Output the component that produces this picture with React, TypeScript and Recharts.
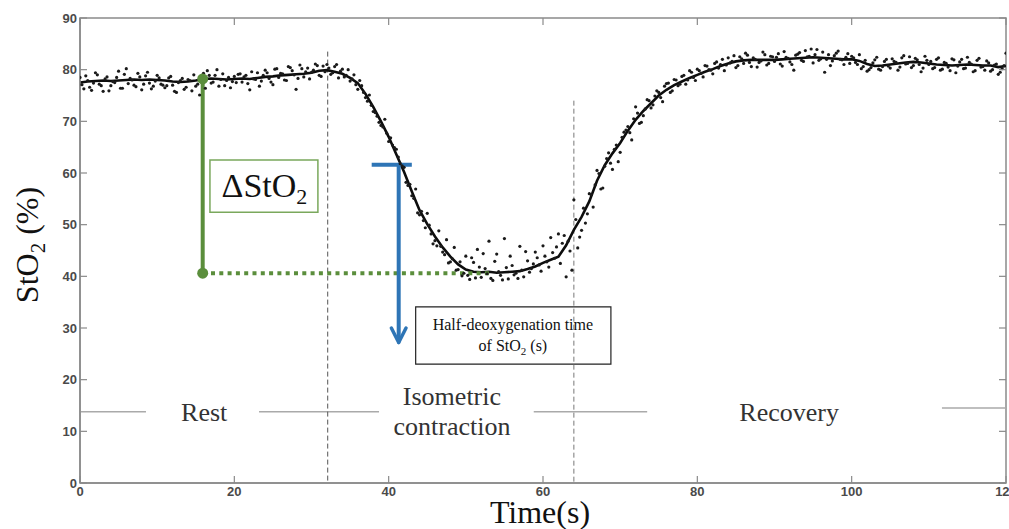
import React from "react";
import {
  ComposedChart,
  Line,
  Scatter,
  XAxis,
  YAxis,
  ReferenceLine,
  ReferenceArea,
  ReferenceDot,
} from "recharts";

// Smoothed StO2 (%) at 1-s steps, t = 0..120
const smoothValues = [
  77.5, 77.7, 77.8, 77.9, 77.8, 77.9, 78.0, 78.1, 78.0, 78.1,
  78.0, 77.9, 77.7, 77.6, 77.7, 77.9, 78.2, 78.3, 78.2, 78.1,
  78.2, 78.3, 78.2, 78.4, 78.6, 78.7, 78.9, 79.0, 79.1, 79.2,
  79.4, 79.8, 79.9, 79.6, 79.2, 78.4, 77.4, 75.3, 72.8, 70.0,
  67.0, 63.6, 60.2, 56.4, 52.8, 50.1, 47.7, 45.6, 43.8, 42.3,
  41.3, 40.9, 40.8, 40.9, 40.7, 40.8, 40.9, 41.0, 41.4, 41.9,
  42.6, 43.2, 43.8, 46.0, 49.0, 51.5, 54.5, 58.5, 61.5, 63.8,
  65.8, 68.2, 70.3, 72.0, 73.5, 75.0, 76.1, 77.0, 77.7, 78.4,
  79.0, 79.6, 80.1, 80.7, 81.2, 81.6, 81.8, 81.9, 81.9, 81.9,
  81.9, 82.0, 82.1, 82.2, 82.3, 82.4, 82.3, 82.2, 82.1, 82.0,
  82.0, 81.7, 81.1, 80.7, 80.8, 81.0, 81.2, 81.4, 81.5, 81.4,
  81.2, 81.0, 80.9, 80.8, 80.9, 81.0, 80.9, 80.8, 80.8, 80.5,
  80.7,
];

// Raw StO2 samples at t = 0, 0.5, 1.0 ... 120
const rawValuesA = [
  78.5, 76.3, 77.9, 76.0, 79.4, 77.2, 75.8, 78.6, 76.9, 77.5, 79.7, 76.4, 80.2, 78.3, 77.0, 79.3, 76.1, 78.8, 77.4, 76.8, 78.9,
  77.2, 76.5, 78.4, 77.0, 75.6, 77.9, 76.2, 78.1, 75.9, 76.8, 75.1, 79.3, 79.8, 77.4, 78.9, 76.8, 79.2, 77.9, 76.5, 78.7,
  79.1, 77.6, 78.9, 76.1, 78.2, 79.4, 77.8, 79.9, 78.3, 77.1, 80.2, 79.3, 78.0, 80.6, 79.8, 76.2, 80.9, 78.6, 80.3, 79.5,
  81.1, 78.9, 80.7, 81.0, 79.1, 80.6, 78.4, 80.1, 78.9, 77.8, 79.0, 76.2, 76.9, 74.6, 75.1, 71.9, 71.0, 69.2, 70.4, 66.1,
  65.4, 64.6, 61.8, 61.1, 57.6, 55.6, 56.9, 51.9, 50.8, 52.2, 48.2, 46.9, 48.8, 44.7, 47.1, 42.8, 45.6, 41.3, 40.1, 43.9,
  39.4, 42.7, 45.2, 39.8, 41.5, 46.8, 39.2, 44.3, 40.2, 47.3, 39.5, 42.1, 40.6, 45.8, 39.9, 43.0, 41.5, 44.7, 42.2, 45.9,
  42.8, 47.5, 43.5, 48.2, 46.4, 39.9, 44.9, 54.8, 45.5, 48.9, 50.3, 56.0, 53.4, 60.5, 56.9, 61.3, 63.9, 60.7, 65.4, 64.0,
  67.9, 69.0, 66.4, 72.8, 69.6, 71.1, 74.2, 72.6, 74.9, 75.6, 73.8, 77.3, 75.6, 78.1, 76.9, 78.7, 77.2, 79.8, 78.5, 80.1,
  79.3, 80.8, 80.0, 79.2, 81.5, 81.0, 79.8, 82.3, 81.6, 80.4, 82.5, 81.2, 82.8, 80.6, 82.0, 81.4, 83.4, 80.9, 82.6, 81.6,
  83.1, 80.7, 82.4, 81.5, 79.9, 83.0, 81.8, 83.7, 82.6, 81.3, 83.9, 82.1, 79.5, 82.9, 81.7, 83.2, 82.0, 81.0, 83.1, 82.6,
  81.4, 82.9, 80.6, 79.7, 80.4, 81.9, 80.1, 80.6, 82.0, 80.3, 81.6, 79.9, 82.3, 81.1, 82.5, 80.8, 81.9, 79.6, 82.6, 81.0,
  80.2, 82.0, 79.9, 81.4, 80.5, 82.1, 79.4, 81.5, 80.2, 82.4, 81.1, 79.8, 82.2, 80.6, 81.7, 79.7, 80.9, 79.1, 80.2, 83.2,
];

// Raw StO2 samples at t = 0.25, 0.75, 1.25 ... 119.75
const rawValuesB = [
  77.1, 78.8, 76.6, 77.4, 79.0, 76.9, 78.2, 75.9, 77.7, 78.5, 76.4, 79.1, 77.3, 78.0, 76.7, 78.6, 77.2, 79.5, 76.3, 77.8,
  78.4, 77.0, 76.9, 78.7, 75.8, 77.5, 78.3, 76.6, 77.9, 79.0, 77.2, 78.6, 76.4, 78.9, 77.6, 80.0, 78.1, 76.9, 78.5, 77.7,
  77.5, 79.2, 78.6, 77.3, 79.6, 78.1, 76.8, 78.9, 79.4, 77.6, 80.1, 78.5, 79.2, 77.9, 80.4, 79.0, 78.3, 80.2, 79.6, 78.2,
  79.9, 80.8, 78.7, 79.6, 80.3, 79.4, 81.0, 79.7, 78.6, 80.0, 78.2, 77.1, 77.9, 75.6, 73.9, 73.1, 71.7, 69.8, 68.9, 67.7,
  66.8, 64.9, 63.1, 61.4, 58.2, 57.8, 55.1, 52.3, 52.6, 49.4, 49.9, 46.3, 45.9, 45.8, 44.2, 42.6, 43.4, 41.2, 42.8, 40.6,
  40.2, 43.6, 39.7, 41.8, 44.4, 40.5, 39.6, 42.9, 40.9, 39.3, 41.7, 43.9, 40.3, 39.6, 41.2, 44.8, 40.8, 42.4, 43.6, 41.0,
  43.9, 41.8, 44.6, 45.7, 42.5, 47.9, 46.8, 41.2, 51.0, 47.6, 53.2, 52.1, 55.8, 57.7, 59.9, 57.1, 62.8, 61.9, 64.6, 62.2,
  66.9, 68.3, 67.8, 70.5, 71.6, 69.8, 72.4, 74.0, 73.2, 75.9, 74.6, 76.8, 77.4, 75.9, 78.0, 77.2, 78.9, 78.0, 79.5, 77.9,
  79.8, 78.6, 80.7, 79.9, 81.2, 80.3, 82.0, 80.9, 81.3, 82.7, 80.8, 82.1, 83.2, 81.4, 82.3, 80.5, 81.7, 82.9, 81.2, 82.5,
  82.4, 81.1, 83.5, 82.2, 81.0, 82.8, 83.3, 81.6, 82.5, 84.0, 82.9, 81.8, 83.4, 82.0, 80.8, 82.7, 83.6, 81.9, 82.4, 81.2,
  82.3, 81.0, 80.2, 81.8, 80.0, 81.3, 82.4, 79.9, 81.6, 80.7, 82.1, 81.4, 80.5, 82.7, 81.2, 80.4, 82.2, 81.0, 80.3, 81.8,
  81.6, 80.4, 82.3, 80.1, 81.2, 79.8, 81.9, 80.7, 82.0, 80.3, 81.4, 79.6, 81.8, 80.5, 79.9, 81.3, 80.0, 81.1, 79.5, 80.8,
];

const xTicks = [0, 20, 40, 60, 80, 100, 120];
const yTicks = [0, 10, 20, 30, 40, 50, 60, 70, 80, 90];

const lineData = smoothValues.map((v, i) => ({ t: i, v }));
const scatterData = [
  ...rawValuesA.map((v, i) => ({ t: i * 0.5, v })),
  ...rawValuesB.map((v, i) => ({ t: 0.25 + i * 0.5, v })),
];

const PLOT_LEFT = 80;
const PLOT_RIGHT = 1006;
const PLOT_TOP = 18;
const PLOT_BOTTOM = 483;
const TICK_LEN = 7;
const AXIS_COLOR = "#8a8a8a";
const TICK_FONT = "'Liberation Sans', Arial, sans-serif";
const SERIF = "'Liberation Serif', 'Times New Roman', serif";
const GREEN = "#5b8e3c";
const BLUE = "#2e75b6";

const XTick = (props: any) => {
  const { payload } = props;
  const x = payload.coordinate;
  return (
    <g>
      <line x1={x} y1={PLOT_BOTTOM} x2={x} y2={PLOT_BOTTOM - TICK_LEN} stroke={AXIS_COLOR} strokeWidth={1.2} />
      <line x1={x} y1={PLOT_TOP} x2={x} y2={PLOT_TOP + TICK_LEN} stroke={AXIS_COLOR} strokeWidth={1.2} />
      <text x={x} y={496} textAnchor="middle" fontFamily={TICK_FONT} fontWeight="bold" fontSize={13} fill="#4a4a4a">
        {payload.value}
      </text>
    </g>
  );
};

const YTick = (props: any) => {
  const { payload } = props;
  const y = payload.coordinate;
  return (
    <g>
      <line x1={PLOT_LEFT} y1={y} x2={PLOT_LEFT + TICK_LEN} y2={y} stroke={AXIS_COLOR} strokeWidth={1.2} />
      <line x1={PLOT_RIGHT} y1={y} x2={PLOT_RIGHT - TICK_LEN} y2={y} stroke={AXIS_COLOR} strokeWidth={1.2} />
      <text x={77} y={y + 4.5} textAnchor="end" fontFamily={TICK_FONT} fontWeight="bold" fontSize={13} fill="#4a4a4a">
        {payload.value}
      </text>
    </g>
  );
};

const textShape = (lines: string[], size: number, gap: number) => (p: any) => (
  <text x={p.cx} y={p.cy} textAnchor="middle" fontFamily={SERIF} fontSize={size} fill="#333">
    {lines.map((s, i) => (
      <tspan key={i} x={p.cx} dy={i === 0 ? 0 : gap}>
        {s}
      </tspan>
    ))}
  </text>
);

const deltaShape = (p: any) => (
  <text x={p.cx} y={p.cy} textAnchor="middle" fontFamily={SERIF} fontSize={34} fill="#111">
    ΔStO<tspan fontSize={22} dy={7}>2</tspan>
  </text>
);

const halfShape = (p: any) => (
  <text x={p.cx} y={p.cy} textAnchor="middle" fontFamily={SERIF} fontSize={16} fill="#111">
    <tspan x={p.cx}>Half-deoxygenation time</tspan>
    <tspan x={p.cx} dy={21}>of StO</tspan>
    <tspan fontSize={11} dy={4}>2</tspan>
    <tspan dy={-4}> (s)</tspan>
  </text>
);

const dotShape = (p: any) => <circle cx={p.cx} cy={p.cy} r={1.6} fill="#1a1a1a" />;

export default function App() {
  return (
    <div style={{ position: "absolute", left: 0, top: 0, background: "#fff" }}>
      <ComposedChart
        width={1009}
        height={529}
        margin={{ top: 18, right: 3, left: 20, bottom: 16 }}
      >
        <XAxis
          type="number"
          dataKey="t"
          domain={[0, 120]}
          ticks={xTicks}
          interval={0}
          allowDataOverflow
          height={30}
          axisLine={{ stroke: AXIS_COLOR, strokeWidth: 1.5 }}
          tickLine={false}
          tick={<XTick />}
          label={{
            content: () => (
              <text x={540} y={523} textAnchor="middle" fontFamily={SERIF} fontSize={32} fill="#111">
                Time(s)
              </text>
            ),
          }}
        />
        <YAxis
          type="number"
          dataKey="v"
          domain={[0, 90]}
          ticks={yTicks}
          interval={0}
          allowDataOverflow
          width={60}
          axisLine={{ stroke: AXIS_COLOR, strokeWidth: 1.5 }}
          tickLine={false}
          tick={<YTick />}
          label={{
            content: () => (
              <text
                x={38}
                y={245}
                transform="rotate(-90 38 245)"
                textAnchor="middle"
                fontFamily={SERIF}
                fontSize={32}
                fill="#111"
              >
                StO<tspan fontSize={21} dy={7}>2</tspan>
                <tspan dy={-7}> (%)</tspan>
              </text>
            ),
          }}
        />

        <ReferenceArea x1={0} x2={120} y1={0} y2={90} fill="none" stroke={AXIS_COLOR} strokeWidth={1.5} />

        {/* phase separator lines */}
        <ReferenceLine segment={[{ x: 0, y: 13.8 }, { x: 8.55, y: 13.8 }]} stroke="#aaaaaa" strokeWidth={1.5} />
        <ReferenceLine segment={[{ x: 23.2, y: 13.8 }, { x: 38.75, y: 13.8 }]} stroke="#aaaaaa" strokeWidth={1.5} />
        <ReferenceLine segment={[{ x: 58.8, y: 13.8 }, { x: 73.5, y: 13.8 }]} stroke="#aaaaaa" strokeWidth={1.5} />
        <ReferenceLine segment={[{ x: 111.7, y: 14.5 }, { x: 120, y: 14.5 }]} stroke="#aaaaaa" strokeWidth={1.5} />

        {/* phase boundaries */}
        <ReferenceLine segment={[{ x: 32.1, y: 83.5 }, { x: 32.1, y: 0 }]} stroke="#555" strokeWidth={1} strokeDasharray="5 3" />
        <ReferenceLine segment={[{ x: 64, y: 74 }, { x: 64, y: 0 }]} stroke="#777" strokeWidth={1} strokeDasharray="5 3" />

        <ReferenceDot x={16.1} y={12.0} r={0} shape={textShape(["Rest"], 26, 0)} />
        <ReferenceDot x={48.2} y={15.1} r={0} shape={textShape(["Isometric", "contraction"], 26, 30)} />
        <ReferenceDot x={91.9} y={12.0} r={0} shape={textShape(["Recovery"], 26, 0)} />

        <Scatter data={scatterData} dataKey="v" shape={dotShape} isAnimationActive={false} />
        <Line
          data={lineData}
          dataKey="v"
          type="linear"
          stroke="#0d0d0d"
          strokeWidth={2.6}
          dot={false}
          activeDot={false}
          isAnimationActive={false}
        />

        {/* ΔStO2 annotation */}
        <ReferenceLine segment={[{ x: 15.9, y: 78.2 }, { x: 15.9, y: 40.6 }]} stroke={GREEN} strokeWidth={4} />
        <ReferenceLine
          segment={[{ x: 15.9, y: 40.6 }, { x: 53.5, y: 40.6 }]}
          stroke={GREEN}
          strokeWidth={4}
          strokeDasharray="4 4.3"
        />
        <ReferenceDot x={15.9} y={78.2} r={5.5} fill={GREEN} stroke="none" />
        <ReferenceDot x={15.9} y={40.6} r={5.5} fill={GREEN} stroke="none" />
        <ReferenceArea x1={16.84} x2={30.83} y1={52.4} y2={62.5} fill="#fff" fillOpacity={1} stroke="#7aa85c" strokeWidth={1.5} />
        <ReferenceDot x={23.9} y={55.4} r={0} shape={deltaShape} />

        {/* half-deoxygenation annotation */}
        <ReferenceLine segment={[{ x: 37.8, y: 61.6 }, { x: 43.0, y: 61.6 }]} stroke={BLUE} strokeWidth={4} />
        <ReferenceLine segment={[{ x: 41.3, y: 61.6 }, { x: 41.3, y: 27.6 }]} stroke={BLUE} strokeWidth={4} />
        <ReferenceLine
          segment={[{ x: 40.35, y: 30.0 }, { x: 41.3, y: 27.2 }]}
          stroke={BLUE}
          strokeWidth={3.5}
          strokeLinecap="round"
        />
        <ReferenceLine
          segment={[{ x: 42.25, y: 30.0 }, { x: 41.3, y: 27.2 }]}
          stroke={BLUE}
          strokeWidth={3.5}
          strokeLinecap="round"
        />
        <ReferenceArea x1={43.5} x2={68.8} y1={23.0} y2={34.1} fill="#fff" fillOpacity={1} stroke="#222" strokeWidth={1.2} />
        <ReferenceDot x={56.1} y={29.6} r={0} shape={halfShape} />
      </ComposedChart>
    </div>
  );
}
